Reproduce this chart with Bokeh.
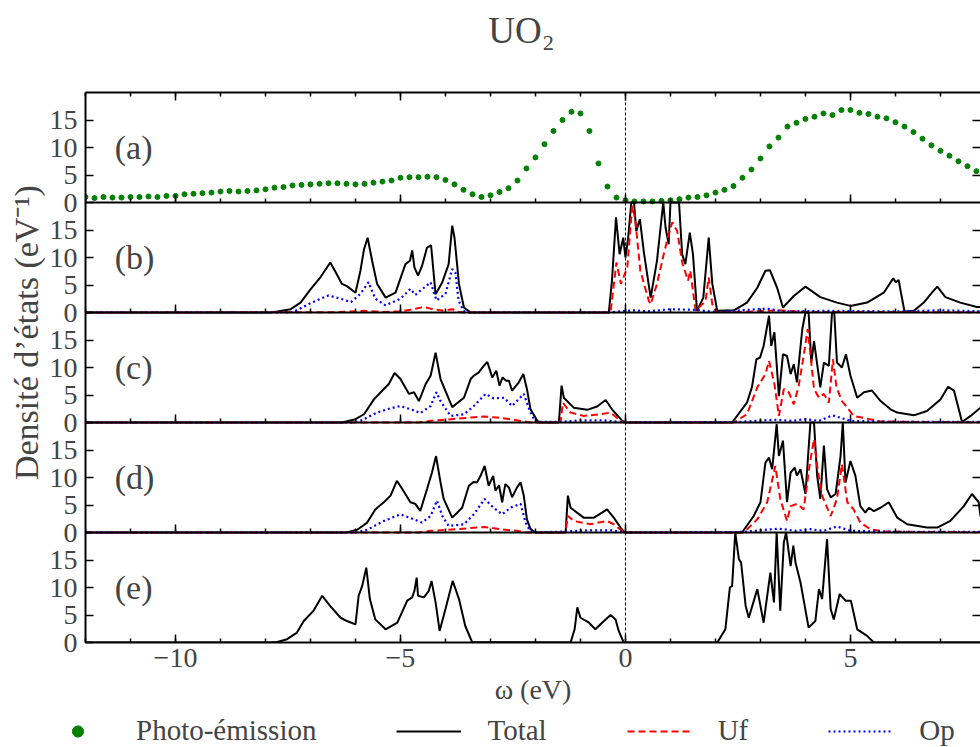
import math
from bokeh.plotting import figure
from bokeh.models import Range1d, FixedTicker, LinearAxis, Span, Label, Legend, LegendItem
from bokeh.layouts import row, column
from bokeh.embed import file_html
from bokeh.resources import INLINE

# ---------------- data ----------------
pe_x = [-12.0, -11.8, -11.6, -11.4, -11.2, -11.0, -10.8, -10.6, -10.4, -10.2, -10.0, -9.8, -9.6, -9.4, -9.2,
        -9.0, -8.8, -8.6, -8.4, -8.2, -8.0, -7.8, -7.6, -7.4, -7.2, -7.0, -6.8, -6.6, -6.4, -6.2, -6.0, -5.8,
        -5.6, -5.4, -5.2, -5.0, -4.8, -4.6, -4.4, -4.2, -4.0, -3.8, -3.6, -3.4, -3.2, -3.0, -2.8, -2.6, -2.4,
        -2.2, -2.0, -1.8, -1.6, -1.4, -1.2, -1.0, -0.8, -0.6, -0.4, -0.2, 0.0, 0.2, 0.4, 0.6, 0.8, 1.0, 1.2,
        1.4, 1.6, 1.8, 2.0, 2.2, 2.4, 2.6, 2.8, 3.0, 3.2, 3.4, 3.6, 3.8, 4.0, 4.2, 4.4, 4.6, 4.8, 5.0, 5.2,
        5.4, 5.6, 5.8, 6.0, 6.2, 6.4, 6.6, 6.8, 7.0, 7.2, 7.4, 7.6, 7.8]
pe_y = [1.0, 0.8, 1.0, 0.9, 0.9, 1.0, 1.0, 1.1, 1.0, 1.2, 1.2, 1.5, 1.6, 1.7, 1.8,
        2.0, 2.1, 2.0, 2.1, 2.2, 2.4, 2.7, 2.8, 3.1, 3.2, 3.3, 3.4, 3.5, 3.5, 3.4, 3.3, 3.4,
        3.6, 3.8, 4.0, 4.5, 4.6, 4.6, 4.7, 4.6, 4.1, 3.3, 2.3, 1.5, 1.0, 1.3, 1.9, 2.6, 4.0,
        6.2, 8.2, 10.6, 13.0, 15.0, 16.5, 16.2, 13.0, 7.1, 2.9, 0.9, 0.4, 0.2, 0.2, 0.2, 0.3, 0.4, 0.6,
        0.9, 1.0, 1.3, 1.8, 2.3, 3.0, 4.5, 6.0, 8.0, 10.2, 11.8, 13.8, 14.5, 15.2, 15.6, 16.2, 15.9, 16.8, 16.8, 16.3,
        16.1, 15.6, 15.3, 14.6, 13.8, 12.8, 11.6, 10.4, 9.4, 8.5, 7.5, 6.6, 5.7]

b_tot_x = [-12, -7.9, -7.74, -7.44, -7.22, -7.0, -6.78, -6.56, -6.44, -6.3, -6.19, -6.0, -5.89, -5.81, -5.73,
           -5.63, -5.52, -5.33, -5.11, -4.89, -4.79, -4.74, -4.69, -4.61, -4.52, -4.41, -4.32, -4.22, -4.07,
           -3.93, -3.85, -3.8, -3.7, -3.59, -3.44, -0.37, -0.3, -0.21, -0.13, -0.05, 0.0, 0.06, 0.13, 0.19,
           0.24, 0.32, 0.41, 0.56, 0.7, 0.84, 0.89, 0.96, 1.0, 1.19, 1.26, 1.33, 1.43, 1.5, 1.59, 1.73, 1.85,
           1.93, 2.04, 2.41, 2.7, 2.93, 3.11, 3.21, 3.37, 3.5, 3.74, 4.0, 4.33, 4.7, 5.0, 5.37, 5.74, 5.95,
           6.01, 6.07, 6.2, 6.41, 6.63, 6.81, 6.93, 7.11, 7.44, 7.81, 8.0]
b_tot_y = [0, 0, 0.2, 0.6, 1.8, 4.2, 6.4, 9.1, 7.3, 5.2, 4.8, 3.6, 7.6, 11.5, 13.6,
           9.4, 5.2, 2.7, 3.6, 8.8, 9.4, 11.3, 8.2, 6.7, 8.5, 11.8, 12.2, 3.3, 5.5,
           8.8, 15.8, 13.6, 5.2, 0.9, 0, 0, 5.8, 17.3, 10.6, 13.6, 10.0, 13.6, 20, 20,
           14.8, 17.0, 10.9, 2.7, 9.4, 20, 15.5, 12.4, 20, 20, 10.6, 8.8, 14.5, 10.6, 0.3, 2.7, 13.6,
           5.2, 0.3, 0.4, 1.8, 4.5, 7.6, 7.7, 4.5, 0.9, 3.0, 4.7, 2.8, 1.8, 1.2, 1.8, 3.6, 6.2,
           5.5, 5.9, 0.2, 0.3, 1.8, 3.6, 4.7, 2.8, 1.8, 1.0, 1.0]
b_uf_x = [-12, -6.5, -5.81, -5.44, -5.0, -4.78, -4.48, -4.33, -4.04, -3.85, -3.7, -3.59, -0.37, -0.33, -0.2,
          -0.1, 0.04, 0.15, 0.22, 0.33, 0.52, 0.56, 0.7, 0.85, 0.96, 1.04, 1.15, 1.26, 1.39, 1.44, 1.56, 1.78,
          1.85, 1.93, 2.02, 2.6, 3.1, 3.4, 4.0, 8.0]
b_uf_y = [0, 0.05, 0.3, 0.1, 0.2, 0.5, 1.0, 0.7, 0.3, 0.6, 0.1, 0, 0, 0.2, 9.1,
          5.2, 8.2, 19.4, 16.7, 7.6, 2.1, 1.5, 5.2, 10.6, 14.2, 16.4, 14.8, 9.1, 5.8, 7.6, 0.3, 2.1,
          6.4, 1.5, 0.1, 0.1, 0.3, 0.4, 0.1, 0.05]
b_op_x = [-12, -7.6, -7.38, -7.0, -6.6, -6.33, -6.1, -5.89, -5.71, -5.56, -5.33, -5.0, -4.78, -4.67, -4.33,
          -4.2, -4.0, -3.85, -3.78, -3.71, -3.6, -3.5, -0.4, 0.19, 0.5, 1.0, 1.5, 2.0, 3.15, 3.5, 4.5, 6.0,
          7.0, 8.0]
b_op_y = [0, 0, 0.1, 1.7, 3.1, 2.5, 1.9, 3.4, 5.5, 2.5, 1.3, 2.5, 4.3, 3.2, 5.5,
          2.2, 3.4, 7.9, 7.3, 2.2, 0.3, 0, 0, 0.4, 0.2, 0.6, 0.5, 0.1, 0.7, 0.2, 0.3, 0.2,
          0.4, 0.2]

c_tot_x = [-12, -6.3, -6.0, -5.81, -5.59, -5.37, -5.26, -5.13, -5.0, -4.81, -4.7, -4.59, -4.44, -4.33, -4.22,
           -4.11, -3.85, -3.59, -3.44, -3.37, -3.26, -3.15, -3.07, -2.96, -2.87, -2.8, -2.73, -2.65, -2.59,
           -2.52, -2.37, -2.27, -2.19, -2.11, -1.96, -1.89, -1.48, -1.42, -1.37, -1.15, -0.85, -0.63, -0.44,
           -0.3, -0.07, 0.0, 2.37, 2.7, 2.81, 2.91, 2.99, 3.07, 3.19, 3.24, 3.31, 3.41, 3.5, 3.59, 3.67, 3.74,
           3.81, 3.93, 4.0, 4.07, 4.13, 4.19, 4.26, 4.33, 4.41, 4.52, 4.59, 4.64, 4.7, 4.81, 4.9, 5.0, 5.15,
           5.3, 5.48, 5.67, 5.89, 6.04, 6.41, 6.7, 7.0, 7.17, 7.3, 7.48, 7.67, 7.89, 8.0]
c_tot_y = [0, 0, 0.6, 1.5, 4.2, 6.1, 7.0, 9.0, 7.9, 5.2, 5.5, 3.9, 7.0, 8.5, 12.7,
           7.9, 2.8, 4.5, 7.9, 8.5, 9.1, 10.3, 11.0, 8.2, 9.4, 6.7, 8.2, 7.6, 7.6,
           5.8, 7.3, 8.8, 6.1, 2.4, 0.3, 0, 0, 6.7, 4.5, 2.7, 2.3, 2.9, 4.1,
           2.4, 0.3, 0, 0, 3.6, 6.4, 11.5, 11.8, 13.9, 19.4, 13.9, 16.4, 4.8, 12.4, 12.1, 8.8, 10.6,
           7.3, 17.0, 20, 20, 10.9, 14.8, 10.6, 6.4, 10.9, 10.3, 20, 20, 10.9, 10.0, 12.4, 8.5, 4.5,
           5.5, 5.8, 3.9, 2.4, 1.8, 1.3, 2.1, 4.2, 6.5, 5.8, 0.1, 1.2, 2.7, 3.2]
c_uf_x = [-12, -4.6, -4.33, -3.44, -3.15, -2.85, -2.56, -2.11, -1.5, -1.44, -1.39, -1.22, -0.93, -0.56, -0.33,
          -0.15, -0.04, 2.41, 2.7, 2.93, 3.11, 3.19, 3.31, 3.41, 3.52, 3.63, 3.74, 3.85, 3.96, 4.05, 4.11,
          4.19, 4.3, 4.41, 4.52, 4.61, 4.69, 4.81, 4.96, 5.07, 5.37, 5.67, 6.5, 8.0]
c_uf_y = [0, 0, 0.3, 0.9, 1.1, 0.9, 0.6, 0, 0, 0.3, 3.6, 1.8, 1.2, 1.5, 1.8,
          0.6, 0, 0, 1.5, 6.4, 8.8, 11.2, 7.0, 1.2, 6.1, 5.5, 3.3, 6.7, 12.1, 17.0, 12.4,
          6.1, 4.5, 5.2, 3.6, 11.5, 6.4, 3.9, 2.4, 1.2, 0.7, 0.2, 0.1, 0.05]
c_op_x = [-12, -6.1, -5.89, -5.52, -5.26, -5.0, -4.7, -4.56, -4.33, -4.2, -4.11, -3.89, -3.59, -3.37, -3.11,
          -2.93, -2.7, -2.52, -2.26, -2.11, -2.0, -1.45, -1.0, -0.5, 0.0, 2.5, 3.3, 3.7, 4.0, 4.3, 4.6, 5.0,
          6.0, 8.0]
c_op_y = [0, 0, 0.3, 1.8, 2.5, 3.0, 2.2, 1.7, 3.0, 5.5, 3.9, 1.2, 1.5, 3.0, 5.2,
          4.4, 4.5, 3.0, 5.2, 1.8, 0.1, 0.1, 0.4, 0.4, 0, 0.1, 0.5, 0.3, 0.6, 0.3, 1.3, 0.3,
          0.1, 0.1]

d_tot_x = [-12, -6.2, -5.96, -5.74, -5.56, -5.37, -5.22, -5.08, -4.96, -4.78, -4.67, -4.56, -4.41, -4.3, -4.21,
           -4.11, -4.04, -3.85, -3.63, -3.48, -3.37, -3.3, -3.22, -3.13, -3.04, -2.94, -2.89, -2.81, -2.74,
           -2.67, -2.59, -2.52, -2.41, -2.33, -2.26, -2.19, -2.11, -2.0, -1.33, -1.28, -1.22, -0.93, -0.7,
           -0.52, -0.41, -0.26, -0.11, -0.02, 2.59, 2.85, 3.0, 3.11, 3.19, 3.26, 3.36, 3.41, 3.5, 3.59, 3.67,
           3.76, 3.81, 3.89, 4.0, 4.11, 4.19, 4.26, 4.33, 4.41, 4.48, 4.56, 4.67, 4.78, 4.83, 4.89, 5.0, 5.11,
           5.22, 5.33, 5.41, 5.52, 5.67, 5.85, 6.04, 6.26, 6.7, 6.93, 7.22, 7.52, 7.7, 7.85, 7.89, 8.0]
d_tot_y = [0, 0, 0.5, 1.8, 4.2, 5.5, 6.7, 9.4, 7.9, 5.5, 5.2, 3.9, 7.9, 10.9, 13.9,
           9.1, 6.1, 2.7, 4.5, 8.5, 9.2, 9.1, 10.3, 12.1, 8.5, 10.3, 7.6, 8.6, 5.5,
           8.8, 8.2, 6.4, 8.2, 9.1, 6.7, 2.4, 0.6, 0, 0, 6.7, 4.5, 2.7, 2.7,
           3.6, 4.2, 2.7, 0.9, 0, 0, 3.0, 5.5, 12.7, 13.6, 11.5, 19.7, 13.9, 16.7, 5.5, 10.9,
           11.8, 10.3, 11.5, 7.0, 20, 20, 10.3, 6.1, 15.8, 7.9, 6.4, 7.0, 13.9, 20, 9.1, 13.0, 10.3,
           4.8, 3.6, 4.5, 3.9, 4.5, 5.5, 2.7, 1.5, 0.9, 0.9, 2.1, 4.8, 7.0, 5.5, 3.0, 2.0]
d_uf_x = [-12, -4.6, -4.33, -3.74, -3.3, -3.15, -2.78, -2.41, -2.19, -1.4, -1.33, -1.28, -1.15, -0.78, -0.41,
          -0.26, -0.11, -0.02, 2.63, 2.93, 3.15, 3.33, 3.44, 3.59, 3.67, 3.81, 3.96, 4.1, 4.19, 4.26, 4.37,
          4.56, 4.7, 4.81, 4.93, 5.07, 5.22, 5.44, 5.74, 6.5, 8.0]
d_uf_y = [0, 0, 0.3, 0.6, 0.9, 1.0, 0.6, 0.3, 0, 0, 0.3, 3.0, 2.1, 1.5, 2.1,
          1.5, 0.5, 0, 0, 2.4, 5.5, 12.1, 6.1, 2.1, 4.8, 5.2, 4.2, 12.7, 17.0, 12.1, 6.7,
          3.0, 6.1, 12.4, 5.5, 4.2, 1.8, 0.6, 0.2, 0.1, 0.05]
d_op_x = [-12, -6.0, -5.74, -5.37, -5.0, -4.7, -4.52, -4.33, -4.19, -4.07, -3.93, -3.59, -3.37, -3.13, -2.93,
          -2.74, -2.56, -2.33, -2.22, -2.11, -2.0, -1.3, -0.8, -0.3, 0.0, 2.6, 3.4, 3.8, 4.1, 4.4, 4.7, 5.0,
          6.0, 8.0]
d_op_y = [0, 0, 0.5, 2.1, 3.3, 2.4, 1.8, 3.0, 5.8, 3.0, 1.2, 1.5, 3.3, 6.1, 4.5,
          3.3, 4.5, 5.2, 1.8, 0.1, 0, 0.2, 0.4, 0.4, 0, 0.1, 0.7, 0.3, 0.6, 0.3, 1.1, 0.3,
          0.1, 0.1]

e_tot_x = [-12, -7.9, -7.74, -7.52, -7.3, -7.15, -6.93, -6.74, -6.56, -6.33, -6.19, -6.0, -5.93, -5.85, -5.76,
           -5.68, -5.56, -5.33, -5.07, -4.85, -4.74, -4.69, -4.64, -4.61, -4.48, -4.37, -4.31, -4.22, -4.13,
           -4.0, -3.84, -3.7, -3.56, -3.41, -1.22, -1.13, -1.07, -1.0, -0.81, -0.67, -0.52, -0.33, -0.22,
           -0.15, -0.04, 2.04, 2.22, 2.32, 2.37, 2.44, 2.52, 2.57, 2.67, 2.74, 2.93, 3.07, 3.22, 3.3, 3.36,
           3.44, 3.52, 3.57, 3.67, 3.73, 3.78, 3.89, 4.07, 4.22, 4.3, 4.37, 4.48, 4.56, 4.63, 4.76, 4.89,
           5.01, 5.15, 5.37, 5.52, 8.0]
e_tot_y = [0, 0, 0.1, 0.6, 1.8, 3.9, 5.8, 8.5, 6.6, 4.5, 3.9, 3.3, 8.5, 10.3, 13.6,
           7.9, 4.2, 2.4, 3.6, 7.6, 8.2, 9.4, 11.8, 8.5, 8.2, 9.4, 11.2, 7.3, 2.1,
           6.1, 11.2, 7.9, 3.0, 0.1, 0, 2.4, 6.4, 4.5, 3.6, 2.4, 3.6, 5.0, 4.2,
           2.1, 0, 0, 2.4, 10.0, 10.3, 20, 15.2, 14.5, 6.7, 4.5, 9.7, 3.6, 12.7, 7.3, 20,
           5.8, 18.2, 20, 13.9, 17.6, 14.5, 10.9, 2.7, 3.9, 9.7, 7.9, 18.8, 6.1, 4.2, 8.8, 7.6,
           7.6, 2.4, 1.2, 0, 0]

ytick_vals = [0, 5, 10, 15]
xtick_major = [-10, -5, 0, 5]
xtick_minor = list(range(-12, 9))
xtick_text = {-10: "−10", -5: "−5", 0: "0", 5: "5"}
panel_names = ["a", "b", "c", "d", "e"]
panel_tags = ["(a)", "(b)", "(c)", "(d)", "(e)"]
legend_labels = ["Photo-émission", "Total", "Uf", "Op"]

# ---------------- styling / layout ----------------
FONT = "Liberation Serif"
XS, XE = -12.0, 7.89
FW, FH = 895, 110          # frame width, height of one panel
NP = 5
PANEL_SPAN = 20            # y extent of each panel (in eV^-1)
LEFT_W = 46                # width of the y-label strip
MAIN_LB = 37               # left border of main figure (tick labels)
TOP_H = 84                 # title strip
MAIN_TB, MAIN_BB = 8, 72
LEG_H = 33
MAIN_H = MAIN_TB + NP * FH + MAIN_BB
FULL_W = 980

main = figure(frame_width=FW, frame_height=NP * FH, x_range=Range1d(XS, XE),
              y_range=Range1d(0, PANEL_SPAN * NP),
              x_axis_location=None, y_axis_location=None, output_backend="svg", toolbar_location=None,
              min_border_left=MAIN_LB, min_border_right=0, min_border_top=MAIN_TB,
              min_border_bottom=MAIN_BB, outline_line_color=None,
              background_fill_color="white", border_fill_color="white")
main.grid.visible = False

# one y range per stacked panel (top panel first), each PANEL_SPAN units tall
main.extra_y_ranges = {name: Range1d(-PANEL_SPAN * (NP - 1 - k), PANEL_SPAN * (k + 1))
                       for k, name in enumerate(panel_names)}

# y ticks of every panel, expressed on the main (stacked) y range, labelled with panel values
stack_ticks, stack_text = [], {}
for k in range(NP):
    base = PANEL_SPAN * k
    for v in ytick_vals:
        stack_ticks.append(base + v)
        stack_text[base + v] = str(v)

left = LinearAxis(ticker=FixedTicker(ticks=stack_ticks, minor_ticks=[]), major_label_overrides=stack_text,
                  major_tick_in=8, major_tick_out=0, major_tick_line_width=1.5,
                  axis_line_width=2, major_label_standoff=8,
                  major_label_text_font=FONT, major_label_text_font_size="28px")
main.add_layout(left, "left")
right = LinearAxis(ticker=FixedTicker(ticks=[t for t in stack_ticks if t % PANEL_SPAN != 0], minor_ticks=[]),
                   major_tick_in=8, major_tick_out=0, major_tick_line_width=1.5,
                   axis_line_color=None, major_label_text_color=None, major_label_standoff=0)
main.add_layout(right, "right")


def x_axis(name, fixed, labels=False):
    ax = LinearAxis(ticker=FixedTicker(ticks=xtick_major, minor_ticks=xtick_minor),
                    y_range_name=name,
                    major_tick_in=8, major_tick_out=0, minor_tick_in=4, minor_tick_out=0,
                    major_tick_line_width=1.5, minor_tick_line_width=1.5, axis_line_width=2,
                    major_label_text_font=FONT)
    if fixed:
        ax.fixed_location = 0
    if labels:
        ax.major_label_overrides = xtick_text
        ax.major_label_standoff = 6
        ax.major_label_text_font_size = "28px"
        ax.axis_label = "ω (eV)"
        ax.axis_label_standoff = 4
        ax.axis_label_text_font = FONT
        ax.axis_label_text_font_size = "28px"
        ax.axis_label_text_font_style = "normal"
    else:
        ax.major_label_text_color = None
        ax.major_label_standoff = 0
    return ax


for k, name in enumerate(panel_names):
    if name == panel_names[-1]:
        main.add_layout(x_axis(name, fixed=False, labels=True), "below")
    else:
        main.add_layout(x_axis(name, fixed=True), "below")
    main.add_layout(Label(x=-11.35, y=10, y_range_name=name, text=panel_tags[k], text_baseline="middle",
                          text_align="left", text_font=FONT, text_font_size="34px"))

main.add_layout(x_axis("a", fixed=False), "above")
main.add_layout(Span(location=0, dimension="height", line_color="black", line_width=1, line_dash="3 2"))

# panel (a): photo-emission
main.scatter(pe_x, pe_y, y_range_name="a", size=5, fill_color="green", line_color="green")

TOT = dict(line_color="black", line_width=2)
UF = dict(line_color="red", line_width=2, line_dash="7 4")
OP = dict(line_color="blue", line_width=2.2, line_dash="2 3")
PE = dict(size=6, fill_color="green", line_color="green")


def add_dos(name, tx, ty, ux=None, uy=None, ox=None, oy=None):
    main.line(tx, ty, y_range_name=name, **TOT)
    if ux is not None:
        main.line(ux, uy, y_range_name=name, **UF)
    if ox is not None:
        main.line(ox, oy, y_range_name=name, **OP)


add_dos("b", b_tot_x, b_tot_y, b_uf_x, b_uf_y, b_op_x, b_op_y)
add_dos("c", c_tot_x, c_tot_y, c_uf_x, c_uf_y, c_op_x, c_op_y)
add_dos("d", d_tot_x, d_tot_y, d_uf_x, d_uf_y, d_op_x, d_op_y)
add_dos("e", e_tot_x, e_tot_y)


# ---------------- text strips ----------------
def text_strip(w, h):
    f = figure(width=w, height=h, x_range=Range1d(0, w), y_range=Range1d(0, h),
               x_axis_location=None, y_axis_location=None, output_backend="svg",
               toolbar_location=None, min_border=0, outline_line_color=None)
    f.grid.visible = False
    return f


title_fig = text_strip(FULL_W, TOP_H)
title_fig.add_layout(Label(x=521, y=TOP_H - 30, text="UO₂", text_align="center", text_baseline="middle",
                           text_font=FONT, text_font_size="37px"))

ylab_fig = text_strip(LEFT_W, MAIN_H)
ylab_fig.add_layout(Label(x=26, y=MAIN_H - (359 - TOP_H), text="Densité d’états (eV⁻¹)",
                          angle=math.pi / 2, text_align="center", text_baseline="middle",
                          text_font=FONT, text_font_size="34px"))

# ---------------- legend strip ----------------
# legend samples: one NaN row each (nothing is drawn in the strip itself)
NAN = [float("nan")]
leg_fig = text_strip(FULL_W, LEG_H)
g_pe = leg_fig.scatter(NAN, NAN, **PE)
g_tot = leg_fig.line(NAN, NAN, **TOT)
g_uf = leg_fig.line(NAN, NAN, **UF)
g_op = leg_fig.line(NAN, NAN, **OP)
legend = Legend(items=[LegendItem(label=lab, renderers=[r])
                       for lab, r in zip(legend_labels, [g_pe, g_tot, g_uf, g_op])],
                orientation="horizontal", location=(45, 0),
                glyph_width=65, glyph_height=28, label_standoff=26, spacing=80,
                padding=0, margin=0, border_line_color=None, background_fill_alpha=0,
                label_text_font=FONT, label_text_font_size="29px")
leg_fig.add_layout(legend)

layout = column(title_fig, row(ylab_fig, main, spacing=0), leg_fig, spacing=0)
open("out.html", "w").write(file_html(layout, INLINE))
